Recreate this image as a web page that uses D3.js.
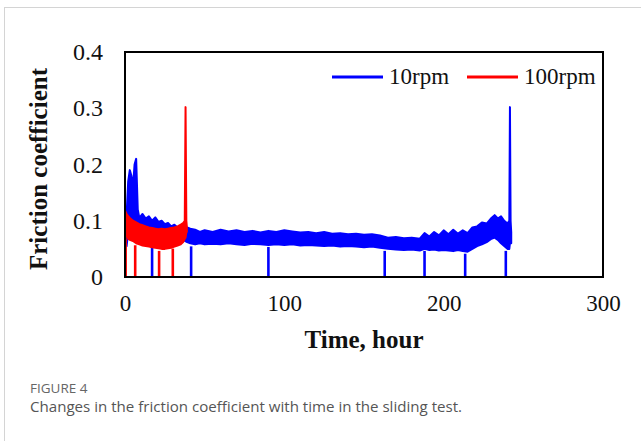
<!DOCTYPE html>
<html>
<head>
<meta charset="utf-8">
<script src="https://cdn.jsdelivr.net/npm/d3@7"></script>
<style>
body { margin: 0; background: #fff; }
svg { display: block; }
</style>
</head>
<body>
<svg id="chart" width="641" height="441"></svg>
<script>
// values (time in hours, friction coefficient band: high / low edge)
var blueTime = [0, 1, 2, 3, 4, 5, 6, 7, 8, 9, 11, 13, 15, 17, 19, 21, 23, 25, 27, 29, 31, 33, 35, 37, 39, 41,
	44, 47, 50, 55, 60, 65, 70, 75, 80, 85, 90, 95, 100, 105, 110, 115, 120, 125, 130, 135, 140, 145, 150,
	155, 160, 165, 170, 175, 180, 185, 188, 191, 194, 197, 200, 203, 206, 209, 212, 215, 218, 221, 224,
	227, 230, 232, 234, 236, 238, 240, 241.2, 241.6, 242, 242.4];
var blueHigh = [0.105, 0.11, 0.17, 0.19, 0.18, 0.16, 0.2, 0.21, 0.12, 0.105, 0.112, 0.104, 0.108, 0.1, 0.106,
	0.098, 0.1, 0.094, 0.096, 0.09, 0.093, 0.088, 0.09, 0.086, 0.088, 0.086,
	0.084, 0.08, 0.083, 0.08, 0.084, 0.081, 0.083, 0.08, 0.082, 0.079, 0.082, 0.08, 0.083, 0.081, 0.079,
	0.08, 0.078, 0.08, 0.077, 0.078, 0.076, 0.077, 0.075,
	0.076, 0.074, 0.07, 0.071, 0.069, 0.07, 0.068, 0.078, 0.072, 0.08, 0.074, 0.083, 0.076, 0.084, 0.077,
	0.083, 0.078, 0.088, 0.09, 0.097,
	0.095, 0.105, 0.11, 0.104, 0.108, 0.1, 0.095, 0.1, 0.302, 0.1, 0.08];
var blueLow = [0.06, 0.055, 0.08, 0.085, 0.085, 0.085, 0.085, 0.085, 0.08, 0.08, 0.078, 0.078, 0.076, 0.075,
	0.074, 0.073, 0.072, 0.072, 0.07, 0.07, 0.07, 0.068, 0.066, 0.065, 0.062, 0.06,
	0.058, 0.06, 0.058, 0.059, 0.058, 0.06, 0.058, 0.057, 0.059, 0.058, 0.057, 0.058, 0.057, 0.058, 0.056,
	0.057, 0.056, 0.055, 0.056, 0.054, 0.055, 0.054, 0.053,
	0.054, 0.052, 0.05, 0.049, 0.048, 0.049, 0.047, 0.05, 0.048, 0.049, 0.047, 0.048, 0.047, 0.046, 0.048,
	0.046, 0.045, 0.05, 0.055, 0.058,
	0.062, 0.068, 0.07, 0.066, 0.06, 0.055, 0.05, 0.05, 0.06, 0.06, 0.06];
var blueDrops = [17, 41.5, 90, 163, 188, 213.5, 239];

var redTime = [0, 1, 2, 3, 5, 7, 9, 11, 13, 15, 17, 19, 21, 23, 25, 27, 29, 31, 33, 35, 36.5, 37.5, 38, 38.5, 38.8];
var redHigh = [0.118, 0.112, 0.108, 0.105, 0.1, 0.097, 0.094, 0.092, 0.09, 0.088, 0.087, 0.086, 0.085, 0.086,
	0.085, 0.086, 0.087, 0.088, 0.09, 0.093, 0.096, 0.1, 0.302, 0.1, 0.09];
var redLow = [0.08, 0.072, 0.068, 0.066, 0.064, 0.06, 0.058, 0.056, 0.055, 0.054, 0.053, 0.052, 0.051, 0.05,
	0.05, 0.051, 0.052, 0.054, 0.056, 0.058, 0.062, 0.068, 0.07, 0.08, 0.08];
var redDrops = [0.4, 6.4, 21.4, 30];

var seriesNames = ["10rpm", "100rpm"];
var seriesColors = ["#0000ff", "#ff0000"];
var xTicks = [0, 100, 200, 300];
var yTicks = [0, 0.1, 0.2, 0.3, 0.4];

var svg = d3.select("#chart");

//grey frame of the figure panel
svg.append("rect")
.attr("x", 4.5)
.attr("y", 7.5)
.attr("width", 700)
.attr("height", 500)
.attr("fill", "none")
.attr("stroke", "#d4d4d4");

//plot box edges ("top" is taken by window.top)
var plotLeft = 125, plotRight = 603, plotTop = 52, plotBottom = 277;

var x = d3.scaleLinear().domain([0, 300]).range([plotLeft, plotRight]);
var y = d3.scaleLinear().domain([0, 0.4]).range([plotBottom, plotTop]);

var serif = "'Liberation Serif', 'Times New Roman', serif";

function band(times, hi, lo){
	return times.map(function(t, i){
		return {t: t, hi: hi[i], lo: lo[i]};
	});
}

var area = d3.area()
.x(function(d){ return x(d.t); })
.y0(function(d){ return y(d.lo); })
.y1(function(d){ return y(d.hi); });

function drawSeries(data, drops, color){
	var g = svg.append("g");
	g.append("path")
	.datum(data)
	.attr("d", area)
	.attr("fill", color)
	.attr("stroke", color)
	.attr("stroke-width", 2)
	.attr("stroke-linejoin", "round");

	//signal dropouts down to zero
	var times = data.map(function(p){ return p.t; });
	g.selectAll("line")
	.data(drops)
	.enter()
	.append("line")
	.attr("x1", function(d){ return x(d); })
	.attr("x2", function(d){ return x(d); })
	.attr("y1", y(0))
	.attr("y2", function(d){
		var i = d3.bisectLeft(times, d);
		var p = data[Math.min(i, data.length - 1)];
		return y(p.lo) + 2;
	})
	.attr("stroke", color)
	.attr("stroke-width", 2.6);
}

drawSeries(band(blueTime, blueHigh, blueLow), blueDrops, seriesColors[0]);
drawSeries(band(redTime, redHigh, redLow), redDrops, seriesColors[1]);

//plot frame
svg.append("rect")
.attr("x", plotLeft)
.attr("y", plotTop)
.attr("width", plotRight - plotLeft)
.attr("height", plotBottom - plotTop)
.attr("fill", "none")
.attr("stroke", "#000")
.attr("stroke-width", 2);

var xAxis = d3.axisBottom(x).tickValues(xTicks).tickSize(0).tickPadding(18).tickFormat(d3.format("d"));
var gx = svg.append("g")
.attr("transform", "translate(0," + plotBottom + ")")
.call(xAxis);
gx.select(".domain").remove();
gx.selectAll("text")
.attr("font-family", serif)
.attr("font-size", 23)
.attr("fill", "#111");

var yAxis = d3.axisLeft(y).tickValues(yTicks).tickSize(0).tickPadding(22)
.tickFormat(function(d){ return d === 0 ? "0" : d3.format(".1f")(d); });
var gy = svg.append("g")
.attr("transform", "translate(" + plotLeft + ",0)")
.call(yAxis);
gy.select(".domain").remove();
gy.selectAll("text")
.attr("font-family", serif)
.attr("font-size", 24)
.attr("fill", "#111");

//axis titles
svg.append("text")
.attr("x", 364)
.attr("y", 348)
.attr("text-anchor", "middle")
.attr("font-family", serif)
.attr("font-weight", "bold")
.attr("font-size", 25)
.attr("fill", "#111")
.text("Time, hour");

svg.append("text")
.attr("transform", "translate(47,169) rotate(-90)")
.attr("text-anchor", "middle")
.attr("font-family", serif)
.attr("font-weight", "bold")
.attr("font-size", 25)
.attr("fill", "#111")
.text("Friction coefficient");

//legend
var legendX = [332, 467];
var legend = svg.selectAll(".legend")
.data(seriesNames)
.enter()
.append("g")
.attr("class", "legend")
.attr("transform", function(d, i){ return "translate(" + legendX[i] + ",77)"; });

legend.append("line")
.attr("x1", 0)
.attr("x2", 51)
.attr("stroke", function(d, i){ return seriesColors[i]; })
.attr("stroke-width", 3);

legend.append("text")
.attr("x", 57)
.attr("y", 7)
.attr("font-family", serif)
.attr("font-size", 23)
.attr("fill", "#111")
.text(function(d){ return d; });

//caption
svg.append("text")
.attr("x", 30)
.attr("y", 393)
.attr("font-family", "'Open Sans', sans-serif")
.attr("font-size", 13.5)
.attr("fill", "#666")
.text("FIGURE 4");

svg.append("text")
.attr("x", 30)
.attr("y", 412)
.attr("font-family", "'Open Sans', sans-serif")
.attr("font-size", 15.1)
.attr("fill", "#555")
.text("Changes in the friction coefficient with time in the sliding test.");
</script>
</body>
</html>
